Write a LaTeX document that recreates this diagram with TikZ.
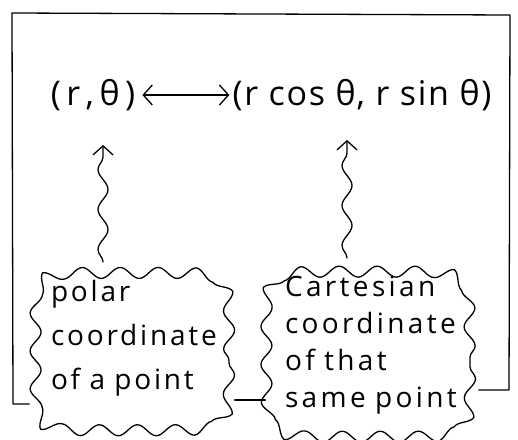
\documentclass[tikz,border=0pt]{standalone}
\usepackage{fontspec}
\setmainfont{Open Sans}
\usetikzlibrary{decorations.pathmorphing, arrows.meta}
\begin{document}
\begin{tikzpicture}[x=1pt, y=-1pt,
  pen/.style={line width=1.3pt, line cap=round, line join=round},
  formula/.style={font=\fontsize{34}{38}\selectfont\addfontfeatures{LetterSpace=5}, inner sep=1pt},
  bubble/.style={align=left, inner sep=0pt,
    font=\fontsize{28}{44}\selectfont\addfontfeatures{LetterSpace=10}},
  cloudline/.style={pen, decorate,
    decoration={snake, segment length=38pt, amplitude=5.5pt}},
  wiggle/.style={pen, decorate,
    decoration={snake, segment length=40pt, amplitude=5pt, post length=8pt},
    -{Straight Barb[length=9pt, width=20pt, line width=1.3pt]}}
]
\useasboundingbox (0,0) rectangle (518,439);

% formula
\node[formula, font=\fontsize{34}{38}\selectfont\addfontfeatures{LetterSpace=16}]
  (pol) at (93,95) {(r,\,θ)};
\node[formula] (car) at (362,95) {(r cos θ, r sin θ)};
\draw[pen, shorten <=6pt, shorten >=2pt,
  {Straight Barb[length=9pt,width=20pt]}-{Straight Barb[length=9pt,width=20pt]}] (pol) -- (car);

% explanation bubbles
\node[bubble, minimum width=205pt, minimum height=167pt, text width=162pt]
  (clL) at (132,338) {polar\\coordinate\\of a point};
\node[bubble, minimum width=213pt, minimum height=174pt, text width=174pt,
  font=\fontsize{28}{37}\selectfont\addfontfeatures{LetterSpace=12}]
  (clR) at (372,345) {Cartesian\\coordinate\\of that\\same point};

% wavy outlines: a squarish superellipse round each bubble, then a snake on it
\draw[cloudline] plot[samples=241, domain=0.5:360.5, variable=\t]
  ({132+97*sign(cos(\t))*abs(cos(\t))^0.28}, {342+79*sign(sin(\t))*abs(sin(\t))^0.28}) -- cycle;
\draw[cloudline] plot[samples=241, domain=0.5:360.5, variable=\t]
  ({369+101*sign(cos(\t))*abs(cos(\t))^0.28}, {345+82*sign(sin(\t))*abs(sin(\t))^0.28}) -- cycle;

% pointers from the bubbles to the formula
\coordinate (tipL) at (103,145);
\coordinate (tipR) at (347,140);
\draw[wiggle] (tipL |- 0,262) -- (tipL);
\draw[wiggle] (tipR |- 0,258) -- (tipR);

% surrounding frame
\coordinate (bl) at (13,404);
\coordinate (br) at (509,390);
\coordinate (mid) at (0,400);
\draw[pen] (clL.west |- bl) -- (bl) -- (12,13) -- (510,15) -- (br) -- (clR.east |- br);
\draw[pen] (clL.east |- mid) -- (clR.west |- mid);
\end{tikzpicture}
\end{document}
